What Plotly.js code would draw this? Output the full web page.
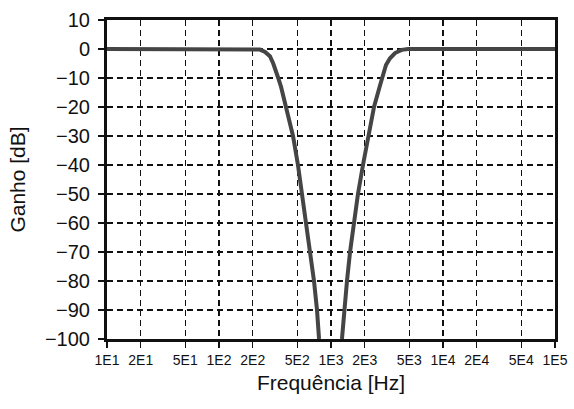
<!DOCTYPE html>
<html>
<head>
<meta charset="utf-8">
<script src="https://cdn.plot.ly/plotly-3.0.1.min.js"></script>
<style>html,body{margin:0;padding:0;background:#fff;}#chart{width:574px;height:409px;}</style>
</head>
<body>
<div id="chart"></div>
<script>
// Band-stop frequency response (left branch, then right branch)
const freqLeftHz = [10, 100, 209, 232, 258, 285, 305, 327, 338, 358, 396, 458, 507, 551, 598, 649, 705, 750, 782];
const gainLeftDb = [0, 0, 0, -0.2, -1, -2.5, -5, -8, -10, -13, -20, -30, -40, -50, -60, -70, -80, -90, -100];
const freqRightHz = [1253, 1306, 1389, 1479, 1604, 1741, 1930, 2140, 2421, 2738, 2895, 3097, 3364, 3728, 4276, 4870, 10000, 100000];
const gainRightDb = [-100, -90, -80, -70, -60, -50, -40, -30, -20, -12.6, -9.1, -5.5, -3.2, -1.4, -0.3, 0, 0, 0];

const xTickVals = [10, 20, 50, 100, 200, 500, 1000, 2000, 5000, 10000, 20000, 50000, 100000];
const xTickText = ["1E1","2E1","5E1","1E2","2E2","5E2","1E3","2E3","5E3","1E4","2E4","5E4","1E5"];
const yTickVals = [10, 0, -10, -20, -30, -40, -50, -60, -70, -80, -90, -100];

const curveLine = {color: '#454545', width: 4, shape: 'linear'};
const traces = [
  {x: freqLeftHz, y: gainLeftDb, mode: 'lines', line: curveLine, hoverinfo: 'skip'},
  {x: freqRightHz, y: gainRightDb, mode: 'lines', line: curveLine, hoverinfo: 'skip'}
];

const fontFam = '"Liberation Sans", Arial, Helvetica, sans-serif';
const layout = {
  width: 574, height: 409,
  margin: {l: 107, r: 19, t: 20, b: 70},
  paper_bgcolor: '#fff', plot_bgcolor: '#fff',
  showlegend: false,
  font: {family: fontFam, color: '#111'},
  xaxis: {
    type: 'log', range: [1, 5],
    tickmode: 'array', tickvals: xTickVals, ticktext: xTickText,
    tickfont: {size: 14, color: '#111'},
    ticks: 'outside', ticklen: 6, tickwidth: 1.5, tickcolor: '#111',
    showline: true, linecolor: '#111', linewidth: 3, mirror: true,
    showgrid: true, gridcolor: '#111', gridwidth: 1.5, griddash: '6px,4px',
    zeroline: false,
    title: {text: 'Frequência [Hz]', font: {size: 21, color: '#111'}, standoff: 9}
  },
  yaxis: {
    range: [-100, 10],
    tickmode: 'array', tickvals: yTickVals,
    tickfont: {size: 20, color: '#111'},
    ticks: 'outside', ticklen: 6, tickwidth: 1.5, tickcolor: '#111',
    ticklabelstandoff: 4,
    showline: true, linecolor: '#111', linewidth: 3, mirror: true,
    showgrid: true, gridcolor: '#111', gridwidth: 1.5, griddash: '6px,4px',
    zeroline: false,
    title: {text: 'Ganho [dB]', font: {size: 21, color: '#111'}, standoff: 14}
  }
};

Plotly.newPlot('chart', traces, layout, {staticPlot: true, displayModeBar: false});
</script>
</body>
</html>
